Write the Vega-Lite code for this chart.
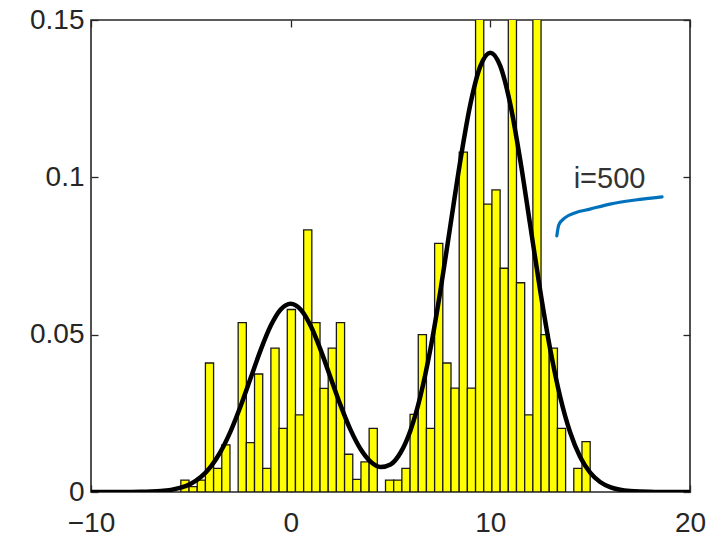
{
  "$schema": "https://vega.github.io/schema/vega-lite/v6.json",
  "autosize": "none",
  "width": 599,
  "height": 472,
  "padding": {"left": 91, "top": 20, "right": 25, "bottom": 47},
  "background": "white",
  "config": {
    "view": {"stroke": "#262626", "strokeWidth": 1.6},
    "axis": {
      "grid": false,
      "domain": false,
      "labelFont": "Liberation Sans",
      "labelFontSize": 28,
      "labelColor": "#262626",
      "tickColor": "#262626",
      "tickWidth": 1.3,
      "tickSize": -7,
      "labelFlush": false,
      "title": null
    }
  },
  "datasets": {
    "bars": [
      {"x0": -5.5, "x1": -5.09, "density": 0.0038},
      {"x0": -5.09, "x1": -4.68, "density": 0.0017},
      {"x0": -4.68, "x1": -4.27, "density": 0.0038},
      {"x0": -4.27, "x1": -3.86, "density": 0.041},
      {"x0": -3.86, "x1": -3.45, "density": 0.0075},
      {"x0": -3.45, "x1": -3.04, "density": 0.015},
      {"x0": -2.63, "x1": -2.22, "density": 0.0538},
      {"x0": -2.22, "x1": -1.81, "density": 0.0157},
      {"x0": -1.81, "x1": -1.4, "density": 0.0375},
      {"x0": -1.4, "x1": -0.99, "density": 0.0075},
      {"x0": -0.99, "x1": -0.58, "density": 0.0457},
      {"x0": -0.58, "x1": -0.17, "density": 0.0202},
      {"x0": -0.17, "x1": 0.24, "density": 0.058},
      {"x0": 0.24, "x1": 0.65, "density": 0.0245},
      {"x0": 0.65, "x1": 1.06, "density": 0.0833},
      {"x0": 1.06, "x1": 1.47, "density": 0.0538},
      {"x0": 1.47, "x1": 1.88, "density": 0.0329},
      {"x0": 1.88, "x1": 2.29, "density": 0.0457},
      {"x0": 2.29, "x1": 2.7, "density": 0.0538},
      {"x0": 2.7, "x1": 3.11, "density": 0.012},
      {"x0": 3.11, "x1": 3.52, "density": 0.004},
      {"x0": 3.52, "x1": 3.93, "density": 0.0096},
      {"x0": 3.93, "x1": 4.34, "density": 0.0202},
      {"x0": 4.75, "x1": 5.16, "density": 0.0038},
      {"x0": 5.16, "x1": 5.57, "density": 0.0038},
      {"x0": 5.57, "x1": 5.98, "density": 0.0075},
      {"x0": 5.98, "x1": 6.39, "density": 0.0247},
      {"x0": 6.39, "x1": 6.8, "density": 0.05},
      {"x0": 6.8, "x1": 7.21, "density": 0.0202},
      {"x0": 7.21, "x1": 7.62, "density": 0.079},
      {"x0": 7.62, "x1": 8.03, "density": 0.041},
      {"x0": 8.03, "x1": 8.44, "density": 0.033},
      {"x0": 8.44, "x1": 8.85, "density": 0.108},
      {"x0": 8.85, "x1": 9.26, "density": 0.033},
      {"x0": 9.26, "x1": 9.67, "density": 0.25},
      {"x0": 9.67, "x1": 10.08, "density": 0.0915},
      {"x0": 10.08, "x1": 10.49, "density": 0.096},
      {"x0": 10.49, "x1": 10.9, "density": 0.0711},
      {"x0": 10.9, "x1": 11.31, "density": 0.27},
      {"x0": 11.31, "x1": 11.72, "density": 0.0665},
      {"x0": 11.72, "x1": 12.13, "density": 0.0245},
      {"x0": 12.13, "x1": 12.54, "density": 0.26},
      {"x0": 12.54, "x1": 12.95, "density": 0.05},
      {"x0": 12.95, "x1": 13.36, "density": 0.0457},
      {"x0": 13.36, "x1": 13.77, "density": 0.0202},
      {"x0": 14.18, "x1": 14.59, "density": 0.0075},
      {"x0": 14.59, "x1": 15.0, "density": 0.016}
    ],
    "curve": [
      {"x": -10, "p": 0}, {"x": -9, "p": 0.000002}, {"x": -8, "p": 0.00002},
      {"x": -7.5, "p": 0.00005}, {"x": -7, "p": 0.00013}, {"x": -6.5, "p": 0.0003},
      {"x": -6, "p": 0.00067}, {"x": -5.5, "p": 0.00136}, {"x": -5, "p": 0.00263},
      {"x": -4.5, "p": 0.00476}, {"x": -4, "p": 0.0081}, {"x": -3.5, "p": 0.01294},
      {"x": -3, "p": 0.01943}, {"x": -2.5, "p": 0.0274}, {"x": -2, "p": 0.03629},
      {"x": -1.5, "p": 0.04517}, {"x": -1, "p": 0.05281}, {"x": -0.5, "p": 0.058},
      {"x": 0, "p": 0.05984}, {"x": 0.5, "p": 0.058}, {"x": 1, "p": 0.05281},
      {"x": 1.5, "p": 0.04517}, {"x": 2, "p": 0.03634}, {"x": 2.5, "p": 0.02752},
      {"x": 3, "p": 0.01973}, {"x": 3.5, "p": 0.01365}, {"x": 4, "p": 0.00965},
      {"x": 4.5, "p": 0.00794}, {"x": 5, "p": 0.00877}, {"x": 5.5, "p": 0.01247},
      {"x": 6, "p": 0.01957}, {"x": 6.5, "p": 0.0305}, {"x": 7, "p": 0.04546},
      {"x": 7.5, "p": 0.06398}, {"x": 8, "p": 0.08471}, {"x": 8.5, "p": 0.1054},
      {"x": 9, "p": 0.12322}, {"x": 9.5, "p": 0.13533}, {"x": 10, "p": 0.13963},
      {"x": 10.5, "p": 0.13533}, {"x": 11, "p": 0.12322}, {"x": 11.5, "p": 0.1054},
      {"x": 12, "p": 0.08469}, {"x": 12.5, "p": 0.06393}, {"x": 13, "p": 0.04533},
      {"x": 13.5, "p": 0.0302}, {"x": 14, "p": 0.0189}, {"x": 14.5, "p": 0.01111},
      {"x": 15, "p": 0.00614}, {"x": 15.5, "p": 0.00318}, {"x": 16, "p": 0.00155},
      {"x": 16.5, "p": 0.00071}, {"x": 17, "p": 0.0003}, {"x": 17.5, "p": 0.00012},
      {"x": 18, "p": 0.00005}, {"x": 19, "p": 0.000002}, {"x": 20, "p": 0}
    ],
    "note": [
      {"o": 1, "ax": 13.33, "ay": 0.0814},
      {"o": 2, "ax": 13.43, "ay": 0.0849},
      {"o": 3, "ax": 13.73, "ay": 0.0871},
      {"o": 4, "ax": 14.23, "ay": 0.0887},
      {"o": 5, "ax": 14.99, "ay": 0.0899},
      {"o": 6, "ax": 15.99, "ay": 0.0915},
      {"o": 7, "ax": 17.25, "ay": 0.0928},
      {"o": 8, "ax": 18.6, "ay": 0.0938}
    ],
    "label": [
      {"tx": 15.97, "ty": 0.0995, "t": "i=500"}
    ]
  },
  "layer": [
    {
      "data": {"name": "bars"},
      "mark": {"type": "bar", "fill": "#FFFF00", "stroke": "#1a1a1a", "strokeWidth": 1.3, "clip": true},
      "encoding": {
        "x": {"field": "x0", "type": "quantitative", "scale": {"domain": [-10, 20], "nice": false, "zero": false},
              "axis": {"values": [-10, 0, 10, 20], "orient": "bottom", "labelPadding": 24}},
        "x2": {"field": "x1"},
        "y": {"field": "density", "type": "quantitative", "scale": {"domain": [0, 0.15], "nice": false},
              "axis": {"values": [0, 0.05, 0.1, 0.15], "format": ".2~f", "orient": "left", "labelPadding": 14}},
        "y2": {"datum": 0}
      }
    },
    {
      "data": {"name": "curve"},
      "mark": {"type": "line", "color": "#000000", "strokeWidth": 4.5, "interpolate": "monotone", "clip": true},
      "encoding": {
        "x": {"field": "x", "type": "quantitative",
              "axis": {"values": [-10, 0, 10, 20], "orient": "top", "labels": false}},
        "y": {"field": "p", "type": "quantitative",
              "axis": {"values": [0, 0.05, 0.1, 0.15], "orient": "right", "labels": false}}
      }
    },
    {
      "data": {"name": "note"},
      "mark": {"type": "line", "color": "#0072BD", "strokeWidth": 3.2, "strokeCap": "round", "interpolate": "monotone"},
      "encoding": {
        "x": {"field": "ax", "type": "quantitative", "axis": null},
        "y": {"field": "ay", "type": "quantitative", "axis": null},
        "order": {"field": "o"}
      }
    },
    {
      "data": {"name": "label"},
      "mark": {"type": "text", "font": "Liberation Sans", "fontSize": 29, "color": "#333333", "align": "center", "baseline": "middle"},
      "encoding": {
        "x": {"field": "tx", "type": "quantitative", "axis": null},
        "y": {"field": "ty", "type": "quantitative", "axis": null},
        "text": {"field": "t"}
      }
    }
  ],
  "resolve": {"axis": {"x": "independent", "y": "independent"}}
}
